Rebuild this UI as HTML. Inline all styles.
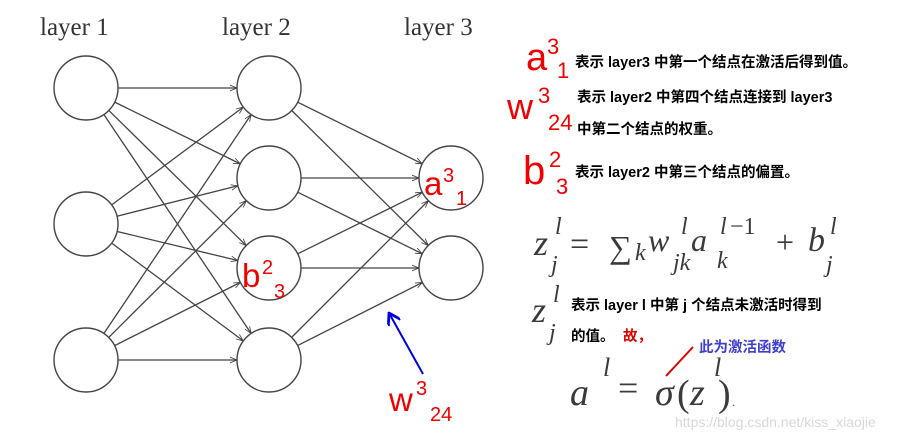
<!DOCTYPE html>
<html><head><meta charset="utf-8"><style>
body{margin:0;background:#fff;width:913px;height:440px;overflow:hidden}
svg{display:block}
.cn{font-family:"Liberation Sans","Noto Sans CJK SC",sans-serif;font-weight:bold;font-size:14.5px;fill:#000}
.red{font-family:"Liberation Sans","DejaVu Sans",sans-serif;fill:#f00000}
.m{font-family:"Liberation Serif",serif;font-style:italic;fill:#3a3a3a}
.lay{font-family:"Liberation Serif",serif;font-size:25px;fill:#333}
</style></head><body>
<svg id="s" width="913" height="440" viewBox="0 0 913 440" xmlns="http://www.w3.org/2000/svg">
<defs><marker id="ar" viewBox="0 0 10 10" refX="10" refY="5" markerWidth="7" markerHeight="7" orient="auto" markerUnits="userSpaceOnUse"><path d="M0,1 L10,5 L0,9" fill="none" stroke="#444" stroke-width="1.2"/></marker>
<marker id="ab" viewBox="0 0 10 10" refX="9" refY="5" markerWidth="14" markerHeight="14" orient="auto" markerUnits="userSpaceOnUse"><path d="M1,0 L9,5 L1,10" fill="none" stroke="#0000e0" stroke-width="2"/></marker></defs>
<text class="lay" x="40" y="35">layer 1</text>
<text class="lay" x="222" y="35">layer 2</text>
<text class="lay" x="404" y="35">layer 3</text>
<g id="edges" stroke="#444" stroke-width="1.3"></g>
<g id="nodes" fill="#fff" stroke="#444" stroke-width="1.4"></g>
<text class="red" x="424" y="195" font-size="33">a</text><text class="red" x="443" y="182" font-size="20">3</text><text class="red" x="456" y="205" font-size="20">1</text>
<text class="red" x="242" y="287" font-size="33">b</text><text class="red" x="262" y="274" font-size="20">2</text><text class="red" x="274" y="298" font-size="20">3</text>
<line x1="423" y1="374" x2="389" y2="313" stroke="#0000e0" stroke-width="2" marker-end="url(#ab)"/>
<text class="red" x="389" y="411" font-size="33">w</text><text class="red" x="416" y="395" font-size="20">3</text><text class="red" x="430" y="421" font-size="20">24</text>
<text class="red" x="526" y="70" font-size="38">a</text><text class="red" x="547" y="54" font-size="22">3</text><text class="red" x="557" y="78" font-size="22">1</text>
<text class="cn" x="575" y="67">表示 layer3 中第一个结点在激活后得到值。</text>
<text class="red" x="507" y="119" font-size="36">w</text><text class="red" x="538" y="103" font-size="22">3</text><text class="red" x="548" y="130" font-size="22">24</text>
<text class="cn" x="577" y="102">表示 layer2 中第四个结点连接到 layer3</text>
<text class="cn" x="577" y="134">中第二个结点的权重。</text>
<text class="red" x="523" y="184" font-size="40">b</text><text class="red" x="549" y="167" font-size="22">2</text><text class="red" x="556" y="194" font-size="22">3</text>
<text class="cn" x="575" y="177">表示 layer2 中第三个结点的偏置。</text>
<g class="m">
<text x="534" y="255" font-size="36">z</text><text x="555" y="234" font-size="24">l</text><text x="551" y="272" font-size="24">j</text>
<text x="570" y="255" font-size="34" font-style="normal">=</text>
<text x="609" y="258" font-size="32" font-style="normal">∑</text><text x="635" y="260" font-size="24">k</text>
<text x="648" y="251" font-size="32">w</text><text x="681" y="234" font-size="24">l</text><text x="673" y="270" font-size="24">jk</text>
<text x="691" y="251" font-size="32">a</text><text x="720" y="234" font-size="24">l</text><text x="730" y="234" font-size="24" font-style="normal">−1</text><text x="717" y="268" font-size="24">k</text>
<text x="776" y="253" font-size="32" font-style="normal">+</text>
<text x="808" y="251" font-size="34">b</text><text x="830" y="234" font-size="24">l</text><text x="826" y="272" font-size="24">j</text>
<text x="532" y="322" font-size="36">z</text><text x="553" y="302" font-size="24">l</text><text x="549" y="340" font-size="24">j</text>
<text x="570" y="405" font-size="38">a</text><text x="603" y="376" font-size="26">l</text>
<text x="618" y="400" font-size="36" font-style="normal">=</text>
<text x="655" y="405" font-size="38">σ</text><text x="677" y="406" font-size="38" font-style="normal">(</text><text x="690" y="405" font-size="38">z</text><text x="714" y="376" font-size="26">l</text><text x="718" y="406" font-size="38" font-style="normal">)</text><text x="732" y="406" font-size="12" font-style="normal">.</text>
</g>
<text class="cn" x="571" y="310">表示 layer l 中第 j 个结点未激活时得到</text>
<text class="cn" x="571" y="341">的值。</text>
<text class="cn" x="623" y="341" style="fill:#e00000">故，</text>
<line x1="666" y1="376" x2="693" y2="347" stroke="#e00000" stroke-width="2"/>
<text class="cn" x="699" y="352" style="fill:#4040d0">此为激活函数</text>
<text x="675" y="427" font-family="Liberation Sans,sans-serif" font-size="14" fill="#d8d8d8">https://blog.csdn.net/kiss_xiaojie</text>
</svg>
<script>
var L1=[[86,88],[86,224],[86,360]],L2=[[269,88],[269,178],[269,268],[269,360]],L3=[[451,178],[451,268]],r=32;
var e=document.getElementById('edges'),n=document.getElementById('nodes'),ns='http://www.w3.org/2000/svg';
function ln(a,b){var dx=b[0]-a[0],dy=b[1]-a[1],d=Math.hypot(dx,dy),l=document.createElementNS(ns,'line');
l.setAttribute('x1',a[0]+dx/d*r);l.setAttribute('y1',a[1]+dy/d*r);l.setAttribute('x2',b[0]-dx/d*r);l.setAttribute('y2',b[1]-dy/d*r);l.setAttribute('marker-end','url(#ar)');e.appendChild(l);}
L1.forEach(a=>L2.forEach(b=>ln(a,b)));L2.forEach(a=>L3.forEach(b=>ln(a,b)));
L1.concat(L2,L3).forEach(c=>{var k=document.createElementNS(ns,'circle');k.setAttribute('cx',c[0]);k.setAttribute('cy',c[1]);k.setAttribute('r',r);n.appendChild(k);});
</script>
</body></html>
